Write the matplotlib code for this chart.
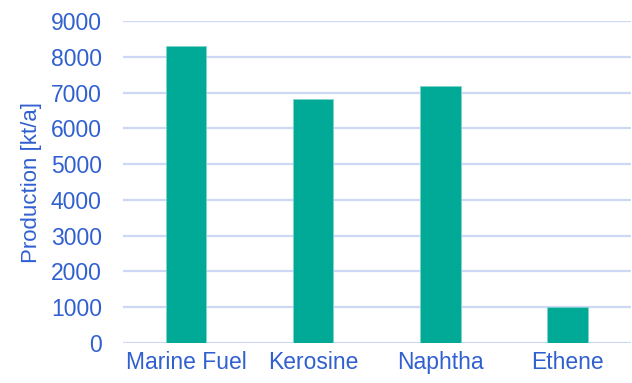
import matplotlib
matplotlib.use("Agg")
import matplotlib.pyplot as plt

categories = ["Marine Fuel", "Kerosine", "Naphtha", "Ethene"]
production = [8300, 6820, 7180, 1000]
yticks = [0, 1000, 2000, 3000, 4000, 5000, 6000, 7000, 8000, 9000]

BAR = "#00AA96"
TEXT = "#3060D0"
GRID = "#CCD8F4"

plt.rcParams["font.family"] = ["Liberation Sans", "DejaVu Sans"]

fig = plt.figure(figsize=(6.32, 3.83), dpi=100)
ax = fig.add_axes([0.194, 0.1044, 0.804, 0.8408])

x = range(len(categories))
ax.bar(x, production, width=0.32, color=BAR, edgecolor="#7fd4ca", linewidth=0.6, zorder=3)

ax.set_xlim(-0.5, len(categories) - 0.5)
ax.set_ylim(0, 9000)
ax.set_yticks(yticks)
ax.set_xticks(list(x))
ax.set_xticklabels(categories)
ax.yaxis.grid(True, color=GRID, linewidth=1.6, zorder=0)
ax.set_axisbelow(True)

for s in ax.spines.values():
    s.set_visible(False)
ax.tick_params(axis="both", length=0, colors=TEXT, labelsize=16.5)
ax.tick_params(axis="y", pad=15)
ax.tick_params(axis="x", pad=6)
ax.set_ylabel("Production [kt/a]", color=TEXT, fontsize=16, labelpad=6)

fig.savefig("out.png", dpi=100)
